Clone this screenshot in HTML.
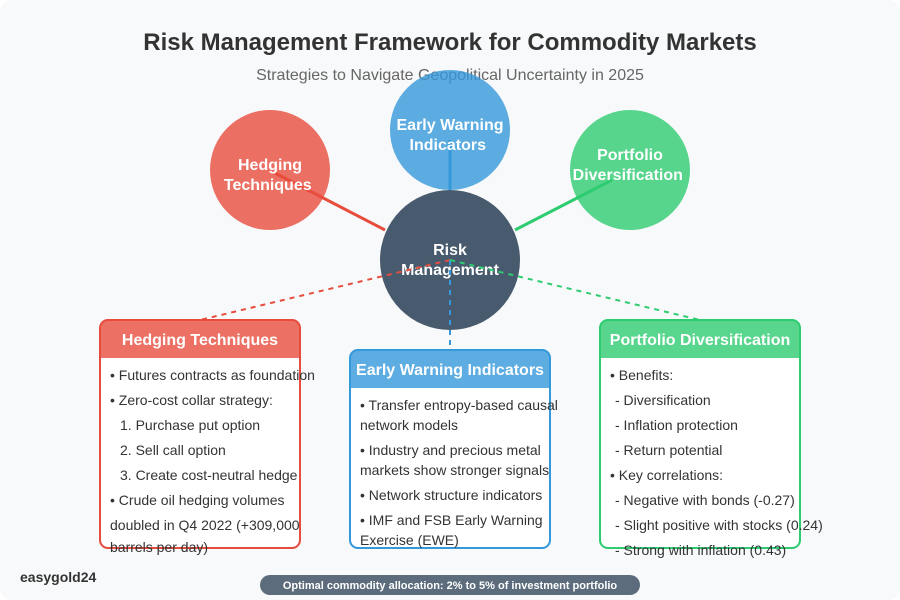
<!DOCTYPE html>
<html><head><style>
html,body{margin:0;padding:0;background:#fff;}
svg{display:block;font-family:"Liberation Sans",Arial,sans-serif;}
</style></head><body>
<svg width="900" height="600" viewBox="0 0 900 600">
<rect x="0" y="0" width="900" height="600" rx="12" fill="#f8f9fa"/>
<text x="450" y="50" text-anchor="middle" font-size="24" font-weight="bold" fill="#333">Risk Management Framework for Commodity Markets</text>
<text x="450" y="80" text-anchor="middle" font-size="16" fill="#666">Strategies to Navigate Geopolitical Uncertainty in 2025</text>

<circle cx="270" cy="170" r="60" fill="#e74c3c" opacity="0.8"/>
<circle cx="450" cy="130" r="60" fill="#3498db" opacity="0.8"/>
<circle cx="630" cy="170" r="60" fill="#2ecc71" opacity="0.8"/>
<line x1="275" y1="173" x2="385" y2="230" stroke="#e74c3c" stroke-width="3"/>
<line x1="450" y1="140" x2="450" y2="190" stroke="#3498db" stroke-width="3"/>
<line x1="612" y1="180" x2="515" y2="230" stroke="#2ecc71" stroke-width="3"/>
<circle cx="450" cy="260" r="70" fill="#34495e" opacity="0.9"/>

<text font-size="16" font-weight="bold" fill="#fff" text-anchor="middle">
<tspan x="270" y="170">Hedging</tspan><tspan x="270" y="190">Techniques</tspan>
<tspan x="450" y="130">Early Warning</tspan><tspan x="450" y="150">Indicators</tspan>
<tspan x="630" y="160">Portfolio</tspan><tspan x="630" y="180">Diversification</tspan>
<tspan x="450" y="255">Risk</tspan><tspan x="450" y="275">Management</tspan>
</text>

<line x1="450" y1="260" x2="200" y2="320" stroke="#e74c3c" stroke-width="2" stroke-dasharray="5,5"/>
<line x1="450" y1="260" x2="450" y2="348" stroke="#3498db" stroke-width="2" stroke-dasharray="5,5"/>
<line x1="450" y1="260" x2="700" y2="320" stroke="#2ecc71" stroke-width="2" stroke-dasharray="5,5"/>

<rect x="100" y="320" width="200" height="228" rx="8" fill="#fff" stroke="#e74c3c" stroke-width="2"/>
<path d="M100 358 V328 a8 8 0 0 1 8 -8 H292 a8 8 0 0 1 8 8 V358 Z" fill="#e74c3c" opacity="0.8"/>
<text x="200" y="345" text-anchor="middle" font-size="16" font-weight="bold" fill="#fff">Hedging Techniques</text>
<text font-size="14" fill="#333">
<tspan x="110" y="380">• Futures contracts as foundation</tspan>
<tspan x="110" y="405">• Zero-cost collar strategy:</tspan>
<tspan x="120" y="430">1. Purchase put option</tspan>
<tspan x="120" y="455">2. Sell call option</tspan>
<tspan x="120" y="480">3. Create cost-neutral hedge</tspan>
<tspan x="110" y="505">• Crude oil hedging volumes</tspan>
<tspan x="110" y="530">doubled in Q4 2022 (+309,000</tspan>
<tspan x="110" y="552">barrels per day)</tspan>
</text>

<rect x="350" y="350" width="200" height="198" rx="8" fill="#fff" stroke="#3498db" stroke-width="2"/>
<path d="M350 388 V358 a8 8 0 0 1 8 -8 H542 a8 8 0 0 1 8 8 V388 Z" fill="#3498db" opacity="0.8"/>
<text x="450" y="375" text-anchor="middle" font-size="16" font-weight="bold" fill="#fff">Early Warning Indicators</text>
<text font-size="14" fill="#333">
<tspan x="360" y="410">• Transfer entropy-based causal</tspan>
<tspan x="360" y="430">network models</tspan>
<tspan x="360" y="455">• Industry and precious metal</tspan>
<tspan x="360" y="475">markets show stronger signals</tspan>
<tspan x="360" y="500">• Network structure indicators</tspan>
<tspan x="360" y="525">• IMF and FSB Early Warning</tspan>
<tspan x="360" y="545">Exercise (EWE)</tspan>
</text>

<rect x="600" y="320" width="200" height="228" rx="8" fill="#fff" stroke="#2ecc71" stroke-width="2"/>
<path d="M600 358 V328 a8 8 0 0 1 8 -8 H792 a8 8 0 0 1 8 8 V358 Z" fill="#2ecc71" opacity="0.8"/>
<text x="700" y="345" text-anchor="middle" font-size="16" font-weight="bold" fill="#fff">Portfolio Diversification</text>
<text font-size="14" fill="#333">
<tspan x="610" y="380">• Benefits:</tspan>
<tspan x="615" y="405">- Diversification</tspan>
<tspan x="615" y="430">- Inflation protection</tspan>
<tspan x="615" y="455">- Return potential</tspan>
<tspan x="610" y="480">• Key correlations:</tspan>
<tspan x="615" y="505">- Negative with bonds (-0.27)</tspan>
<tspan x="615" y="530">- Slight positive with stocks (0.24)</tspan>
<tspan x="615" y="555">- Strong with inflation (0.43)</tspan>
</text>

<text x="20" y="582" font-size="14" font-weight="bold" fill="#333">easygold24</text>
<rect x="260" y="575" width="380" height="20" rx="10" fill="#34495e" opacity="0.8"/>
<text x="450" y="589" text-anchor="middle" font-size="11" font-weight="bold" fill="#fff">Optimal commodity allocation: 2% to 5% of investment portfolio</text>
</svg>
</body></html>
